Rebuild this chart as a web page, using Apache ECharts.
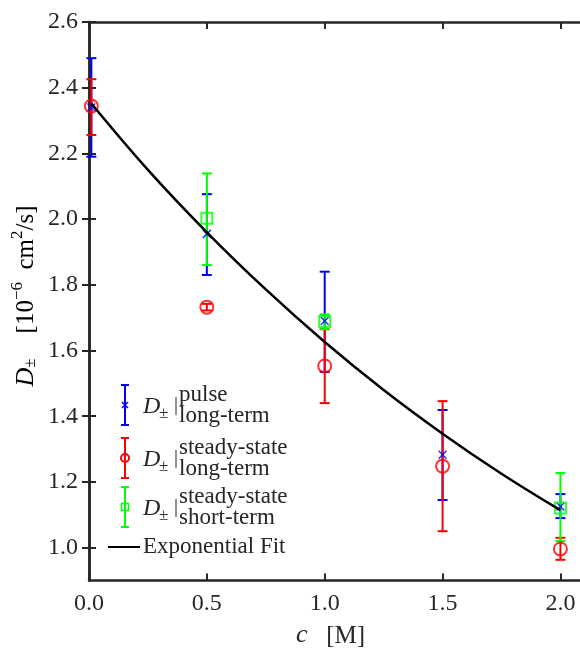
<!DOCTYPE html>
<html>
<head>
<meta charset="utf-8">
<script src="https://cdn.jsdelivr.net/npm/echarts@6/dist/echarts.min.js"></script>
<style>
  html, body { margin: 0; padding: 0; background: #fff; }
  #chart { width: 580px; height: 648px; }
</style>
</head>
<body>
<div id="chart"></div>
<script>
// pulse, long-term (blue)
const pulseC = [0.01, 0.5, 1.0, 1.5, 2.0]
const pulseMean = [2.34, 1.955, 1.69, 1.283, 1.125]
const pulseLow = [2.19, 1.83, 1.535, 1.145, 1.09]
const pulseHigh = [2.49, 2.076, 1.84, 1.419, 1.163]
// steady-state, long-term (red)
const ssLongC = [0.01, 0.5, 1.0, 1.5, 2.0]
const ssLongMean = [2.344, 1.732, 1.553, 1.248, 0.996]
const ssLongLow = [2.256, 1.722, 1.44, 1.05, 0.963]
const ssLongHigh = [2.426, 1.742, 1.665, 1.446, 1.03]
// steady-state, short-term (green)
const ssShortC = [0.5, 1.0, 2.0]
const ssShortMean = [2.003, 1.688, 1.121]
const ssShortLow = [1.86, 1.665, 1.02]
const ssShortHigh = [2.139, 1.71, 1.227]
// exponential fit
const fitC = [0.01, 0.25, 0.5, 0.75, 1.0, 1.25, 1.5, 1.75, 2.0]
const fitD = [2.352, 2.15, 1.96, 1.786, 1.626, 1.48, 1.347, 1.225, 1.114]
// tick labels
const xTicks = [0, 0.5, 1.0, 1.5, 2.0]
const yTicks = [1.0, 1.2, 1.4, 1.6, 1.8, 2.0, 2.2, 2.4, 2.6]

const AX = '#262626'
const FONT = '"Liberation Serif", "DejaVu Serif", serif'
const BLUE = '#0000ff', RED = '#ff0000', GREEN = '#00ff00'

function zip(c, a, b) {
  return c.map((v, i) => (b ? [v, a[i], b[i]] : [v, a[i]]))
}

function errRender(color) {
  return function (params, api) {
    let x = api.value(0)
    let top = api.coord([x, api.value(2)])
    let bot = api.coord([x, api.value(1)])
    let w = 5
    let st = { stroke: color, lineWidth: 2 }
    return {
      type: 'group',
      children: [
        { type: 'line', shape: { x1: top[0], y1: top[1], x2: bot[0], y2: bot[1] }, style: st },
        { type: 'line', shape: { x1: top[0] - w, y1: top[1], x2: top[0] + w, y2: top[1] }, style: st },
        { type: 'line', shape: { x1: bot[0] - w, y1: bot[1], x2: bot[0] + w, y2: bot[1] }, style: st },
      ],
    }
  }
}

function errSeries(c, lo, hi, color) {
  return {
    type: 'custom',
    renderItem: errRender(color),
    data: zip(c, lo, hi),
    encode: { x: 0, y: [1, 2] },
    silent: true,
    z: 2,
  }
}

const XPATH = 'path://M0,0L10,10M10,0L0,10'
const tickStyle = { show: true, inside: true, length: 7, lineStyle: { color: AX, width: 2 } }
const lineStyle = { show: true, lineStyle: { color: AX, width: 2.5 } }

const rich = {
  n: { fontFamily: FONT, fontSize: 25, color: AX, lineHeight: 30, verticalAlign: 'bottom' },
  i: { fontFamily: FONT, fontSize: 26, color: AX, fontStyle: 'italic', lineHeight: 30, verticalAlign: 'bottom' },
  sup: { fontFamily: FONT, fontSize: 17, color: AX, lineHeight: 17, verticalAlign: 'top' },
  sub: { fontFamily: FONT, fontSize: 17, color: AX, lineHeight: 17, verticalAlign: 'bottom' },
}

let chart = echarts.init(document.getElementById('chart'))

function legendEntry(y, color, symbol, upper, lower) {
  let items = [
    { type: 'line', shape: { x1: 125, y1: y - 20, x2: 125, y2: y + 20 }, style: { stroke: color, lineWidth: 2 } },
    { type: 'line', shape: { x1: 121, y1: y - 20, x2: 129, y2: y - 20 }, style: { stroke: color, lineWidth: 2 } },
    { type: 'line', shape: { x1: 121, y1: y + 20, x2: 129, y2: y + 20 }, style: { stroke: color, lineWidth: 2 } },
    { type: 'text', x: 143, y: y + 2, style: { text: 'D', font: 'italic 24px ' + FONT, fill: AX, verticalAlign: 'middle' } },
    { type: 'text', x: 159, y: y + 9, style: { text: '±', font: '17px ' + FONT, fill: AX, verticalAlign: 'middle' } },
    { type: 'line', shape: { x1: 176, y1: y - 8, x2: 176, y2: y + 10 }, style: { stroke: AX, lineWidth: 1 } },
    { type: 'text', x: 179, y: y - 10, style: { text: upper, font: '23px ' + FONT, fill: AX, verticalAlign: 'middle' } },
    { type: 'text', x: 179, y: y + 11, style: { text: lower, font: '23px ' + FONT, fill: AX, verticalAlign: 'middle' } },
  ]
  if (symbol === 'x') {
    items.push({ type: 'line', shape: { x1: 122, y1: y - 3, x2: 128, y2: y + 3 }, style: { stroke: color, lineWidth: 1.5 } })
    items.push({ type: 'line', shape: { x1: 122, y1: y + 3, x2: 128, y2: y - 3 }, style: { stroke: color, lineWidth: 1.5 } })
  } else if (symbol === 'o') {
    items.push({ type: 'circle', shape: { cx: 125, cy: y, r: 4 }, style: { stroke: color, fill: null, lineWidth: 2 } })
  } else {
    items.push({ type: 'rect', shape: { x: 121.5, y: y - 3.5, width: 7, height: 7 }, style: { stroke: color, fill: null, lineWidth: 1.5 } })
  }
  return items
}

let legendItems = []
  .concat(legendEntry(405, BLUE, 'x', 'pulse', 'long-term'))
  .concat(legendEntry(458, RED, 'o', 'steady-state', 'long-term'))
  .concat(legendEntry(507, GREEN, 's', 'steady-state', 'short-term'))
  .concat([
    { type: 'line', shape: { x1: 108, y1: 547, x2: 140, y2: 547 }, style: { stroke: '#000', lineWidth: 2 } },
    { type: 'text', x: 143, y: 547, style: { text: 'Exponential Fit', font: '23px ' + FONT, fill: AX, verticalAlign: 'middle' } },
  ])

// y-axis title, rotated
legendItems.push({
  type: 'text', x: 24, y: 296, rotation: Math.PI / 2,
  style: {
    text: '{i|D}{sub|±}{n|    [10}{sup|−6}{n|  cm}{sup|2}{n|/s]}',
    rich: rich, align: 'center', verticalAlign: 'middle',
  },
})

let option = {
  animation: false,
  backgroundColor: '#fff',
  grid: { left: 89, top: 22, width: 495, height: 558.5, outerBoundsMode: 'none', containLabel: false },
  xAxis: [
    {
      type: 'value', min: 0, max: 2.1, position: 'bottom',
      axisLine: lineStyle,
      axisTick: Object.assign({ customValues: xTicks }, tickStyle),
      axisLabel: {
        customValues: xTicks, margin: 11, color: AX, fontFamily: FONT, fontSize: 24,
        formatter: (v) => v.toFixed(1),
      },
      splitLine: { show: false },
      name: '{i|c}{n|   [M]}', nameLocation: 'middle', nameGap: 38,
      nameTextStyle: { rich: rich, padding: [0, 12, 0, 0] },
    },
    {
      type: 'value', min: 0, max: 2.1, position: 'top',
      axisLine: lineStyle,
      axisTick: Object.assign({ customValues: xTicks }, tickStyle),
      axisLabel: { show: false },
      splitLine: { show: false },
    },
  ],
  yAxis: [
    {
      type: 'value', min: 0.9, max: 2.6, position: 'left',
      axisLine: lineStyle,
      axisTick: Object.assign({ customValues: yTicks }, tickStyle),
      axisLabel: {
        customValues: yTicks, margin: 11, color: AX, fontFamily: FONT, fontSize: 24,
        formatter: (v) => v.toFixed(1),
      },
      splitLine: { show: false },
    },
    {
      type: 'value', min: 0.9, max: 2.6, position: 'right',
      axisLine: lineStyle,
      axisTick: Object.assign({ customValues: yTicks }, tickStyle),
      axisLabel: { show: false },
      splitLine: { show: false },
    },
  ],
  series: [
    errSeries(pulseC, pulseLow, pulseHigh, BLUE),
    {
      type: 'scatter', data: zip(pulseC, pulseMean), symbol: XPATH, symbolSize: 8,
      itemStyle: { color: 'transparent', borderColor: BLUE, borderWidth: 1.5 }, z: 3, silent: true,
    },
    errSeries(ssLongC, ssLongLow, ssLongHigh, RED),
    {
      type: 'scatter', data: zip(ssLongC, ssLongMean), symbol: 'circle', symbolSize: 13,
      itemStyle: { color: 'transparent', borderColor: RED, borderWidth: 2 }, z: 3, silent: true,
    },
    errSeries(ssShortC, ssShortLow, ssShortHigh, GREEN),
    {
      type: 'scatter', data: zip(ssShortC, ssShortMean), symbol: 'rect', symbolSize: 11,
      itemStyle: { color: 'transparent', borderColor: GREEN, borderWidth: 2 }, z: 3, silent: true,
    },
    {
      type: 'line', data: zip(fitC, fitD), smooth: 0.4, showSymbol: false,
      lineStyle: { color: '#000', width: 2.5 }, z: 4, silent: true,
    },
  ],
  graphic: legendItems,
}

chart.setOption(option)
</script>
</body>
</html>
